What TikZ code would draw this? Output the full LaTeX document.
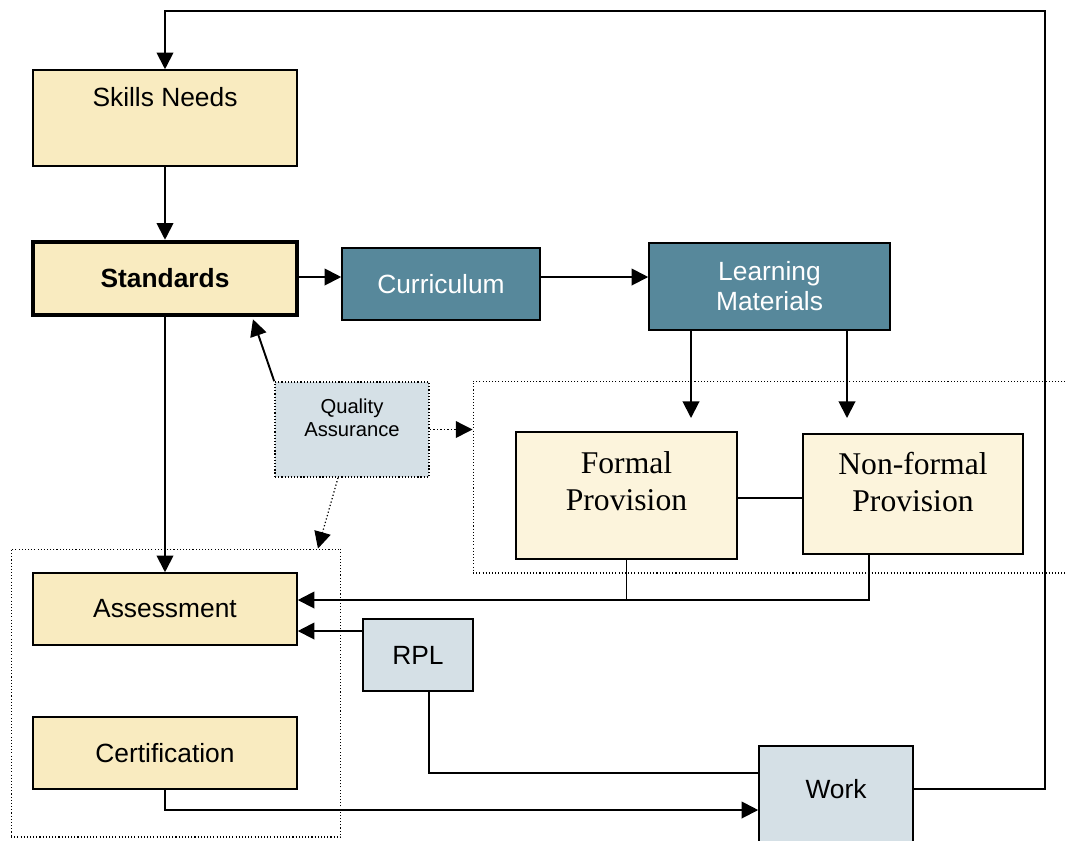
\documentclass[tikz,border=0pt]{standalone}
\usepackage{fontspec}
\setmainfont{Liberation Sans}
\newfontfamily\timesfont{Liberation Serif}
\usetikzlibrary{arrows.meta}
\definecolor{needscol}{RGB}{249,235,192}
\definecolor{provcol}{RGB}{252,244,220}
\definecolor{matcol}{RGB}{87,136,155}
\definecolor{qacol}{RGB}{213,224,230}
\newcommand{\lift}[2]{\raisebox{#1}[0pt][0pt]{#2}}
\tikzset{
  box/.style={draw, line width=0.9pt, inner sep=0pt, align=center},
  ybox/.style={box, fill=needscol},
  tbox/.style={box, fill=matcol, text=white},
  qbox/.style={box, fill=qacol},
  pbox/.style={box, fill=provcol, font=\timesfont\fontsize{18}{21}\selectfont},
  region/.style={draw, line width=0.6pt, dash pattern=on 0.6pt off 1.2pt, inner sep=0pt},
  arr/.style={line width=1.1pt, -{Triangle[length=9.5pt,width=9.5pt]}},
  dotarr/.style={line width=0.7pt, dash pattern=on 0.7pt off 1.3pt, -{Triangle[length=9.5pt,width=9.5pt]}},
  link/.style={line width=1pt}
}
\begin{document}
\begin{tikzpicture}[x=0.02cm, y=-0.02cm, font=\fontsize{15}{17}\selectfont]
\useasboundingbox (0,0) rectangle (1065,840);
% dotted regions
\node[region, minimum width=6.6cm, minimum height=5.76cm] (asreg) at (176,693) {};
\node[region, minimum width=12.04cm, minimum height=3.84cm] (provreg) at (774,477) {};
% boxes
\node[ybox, minimum width=5.28cm, minimum height=1.92cm] (skills) at (165,118) {\lift{6.8pt}{Skills Needs}};
\node[ybox, line width=2.6pt, font=\fontsize{15}{17}\selectfont\bfseries, minimum width=5.28cm, minimum height=1.46cm] (standards) at (165,278.5) {Standards};
\node[tbox, minimum width=3.96cm, minimum height=1.44cm] (curr) at (441,284) {Curriculum};
\node[tbox, minimum width=4.82cm, minimum height=1.74cm] (lm) at (769.5,286.5) {Learning\\Materials};
\node[qbox, dash pattern=on 0.7pt off 1.1pt, font=\fontsize{11.5}{13}\selectfont, minimum width=3.08cm, minimum height=1.9cm] (qa) at (352,429.5)
  {\lift{2.2pt}{\begin{tabular}{@{}c@{}}Quality\\Assurance\end{tabular}}};
\node[pbox, minimum width=4.42cm, minimum height=2.54cm] (formal) at (626.5,495.5)
  {\lift{2pt}{\begin{tabular}{@{}c@{}}Formal\\Provision\end{tabular}}};
\node[pbox, minimum width=4.4cm, minimum height=2.4cm] (nonformal) at (913,494)
  {\lift{0.5pt}{\begin{tabular}{@{}c@{}}Non-formal\\Provision\end{tabular}}};
\node[ybox, minimum width=5.28cm, minimum height=1.44cm] (assess) at (165,609) {Assessment};
\node[ybox, minimum width=5.28cm, minimum height=1.44cm] (cert) at (165,753) {Certification};
\node[qbox, minimum width=2.2cm, minimum height=1.44cm] (rpl) at (418,655) {RPL};
\node[qbox, minimum width=3.08cm, minimum height=2.28cm] (work) at (836,803) {\lift{2.8pt}{Work}};
% free ends and bends
\coordinate (loopr) at (1045,789);
\coordinate (loopt) at (1045,11);
\coordinate (f1) at (691,418);
\coordinate (n1) at (847,418);
\coordinate (j1) at (869,600);
\coordinate (r1) at (363,631);
\coordinate (r2) at (429,773);
\coordinate (c2) at (165,810);
\coordinate (c1) at (0,277);
\coordinate (p1) at (0,498);
% connectors
\draw[arr] ([yshift=0.28cm]work.east) -- (loopr) -- (loopt) -- (skills.north |- loopt) -- (skills.north);
\draw[arr] (skills) -- (standards);
\draw[arr] (standards.east |- c1) -- (curr.west |- c1);
\draw[arr] (curr.east |- c1) -- (lm.west |- c1);
\draw[arr] (lm.south -| f1) -- (f1);
\draw[arr] (lm.south -| n1) -- (n1);
\draw[arr] (standards) -- (assess);
\draw[arr] (qa.north west) -- ([xshift=1.76cm, yshift=-0.04cm]standards.south);
\draw[dotarr] (qa.east) -- (qa.east -| provreg.west);
\draw[dotarr] ([xshift=-0.28cm]qa.south) -- ([xshift=2.84cm]asreg.north);
\draw[link] (formal.east |- p1) -- (nonformal.west |- p1);
\draw[link] (formal.south) -- (formal.south |- j1);
\draw[arr] (nonformal.south -| j1) -- (j1) -- (j1 -| assess.east);
\draw[arr] (r1) -- (r1 -| assess.east);
\draw[link] (rpl.south -| r2) -- (r2) -- (r2 -| work.west);
\draw[arr] (cert.south) -- (c2) -- (c2 -| work.west);
\end{tikzpicture}
\end{document}
